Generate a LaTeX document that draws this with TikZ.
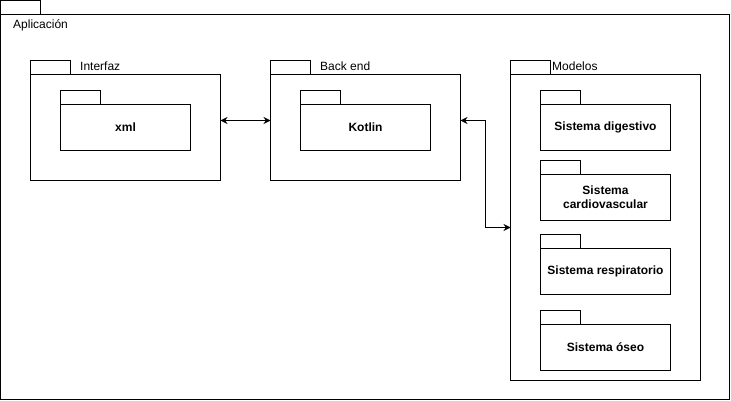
\documentclass[tikz,border=0pt]{standalone}
\usepackage{fontspec}
\setmainfont{Liberation Sans}
\usetikzlibrary{arrows.meta}
\tikzset{
  pkgbody/.style={draw, line width=1pt, rectangle, inner sep=0pt, outer sep=0pt, anchor=north west,
    font=\fontsize{12}{14}\selectfont\bfseries, align=center},
  pkgtab/.style={draw, line width=1pt, rectangle, inner sep=0pt, outer sep=0pt, minimum width=40pt,
    minimum height=14pt, anchor=south west},
  lbl/.style={anchor=west, inner sep=0pt, font=\fontsize{12}{14}\selectfont},
  conn/.style={line width=1pt, {Stealth[length=7pt,width=7pt]}-{Stealth[length=7pt,width=7pt]}}
}
\begin{document}
\begin{tikzpicture}[x=1pt, y=-1pt]
\useasboundingbox (0,0) rectangle (731,401);
% outer package
\node[pkgbody, minimum width=729pt, minimum height=385pt] (app) at (0.5,14.5) {};
\node[pkgtab] (apptab) at (app.north west) {};
\node[lbl] (applbl) at (13,25) {Aplicación};
% Interfaz
\node[pkgbody, minimum width=190pt, minimum height=106pt] (interfaz) at (30.5,74.5) {};
\node[pkgtab] (interfaztab) at (interfaz.north west) {};
\node[lbl] (interfazlbl) at (80,66) {Interfaz};
\node[pkgbody, minimum width=130pt, minimum height=46pt] (xml) at (60.5,104.5) {xml};
\node[pkgtab] (xmltab) at (xml.north west) {};
% Back end
\node[pkgbody, minimum width=190pt, minimum height=106pt] (backend) at (270.5,74.5) {};
\node[pkgtab] (backendtab) at (backend.north west) {};
\node[lbl] (backendlbl) at (320,66) {Back end};
\node[pkgbody, minimum width=130pt, minimum height=46pt] (kotlin) at (300.5,104.5) {Kotlin};
\node[pkgtab] (kotlintab) at (kotlin.north west) {};
% Modelos
\node[pkgbody, minimum width=190pt, minimum height=306pt] (modelos) at (510.5,74.5) {};
\node[pkgtab] (modelostab) at (modelos.north west) {};
\node[lbl] (modeloslbl) at (552,66) {Modelos};
\node[pkgbody, minimum width=130pt, minimum height=46pt] (dig) at (540.5,104.5) {Sistema digestivo};
\node[pkgtab] (digtab) at (dig.north west) {};
\node[pkgbody, minimum width=130pt, minimum height=46pt] (card) at (540.5,174.5) {Sistema\\cardiovascular};
\node[pkgtab] (cardtab) at (card.north west) {};
\node[pkgbody, minimum width=130pt, minimum height=46pt] (resp) at (540.5,248.5) {Sistema respiratorio};
\node[pkgtab] (resptab) at (resp.north west) {};
\node[pkgbody, minimum width=130pt, minimum height=46pt] (oseo) at (540.5,324.5) {Sistema óseo};
\node[pkgtab] (oseotab) at (oseo.north west) {};
% connectors
\draw[conn] ([yshift=7pt]interfaz.east) -- ([yshift=7pt]backend.west);
\draw[conn] ([yshift=7pt]backend.east) -- ++(25,0) |- (modelos.west);
\end{tikzpicture}
\end{document}
